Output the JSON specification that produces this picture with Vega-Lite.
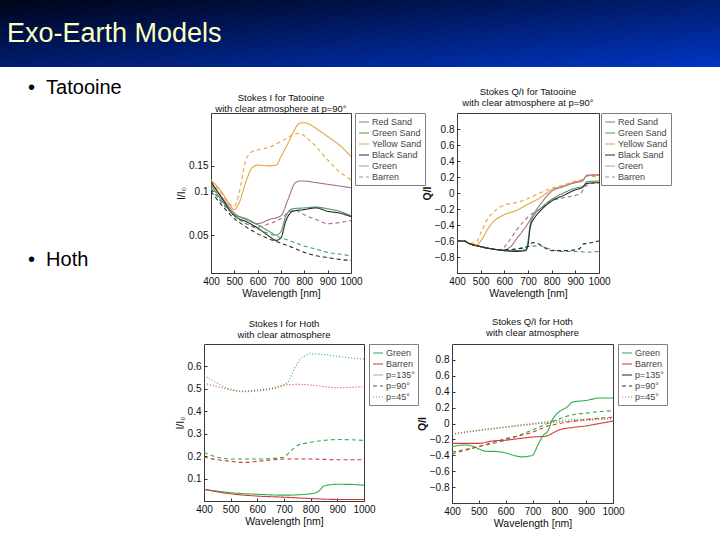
{
"$schema": "https://vega.github.io/schema/vega-lite/v6.json",
"padding": 0,
"background": "white",
"spacing": 0,
"resolve": {"scale": {"color": "independent", "strokeDash": "independent"}},
"config": {
  "view": {"stroke": null},
  "font": "Liberation Sans",
  "axis": {"labelFont": "Liberation Sans", "labelFontSize": 10, "labelColor": "#111", "titleFont": "Liberation Sans", "titleFontSize": 10.5, "titleFontWeight": "normal", "titleColor": "#111", "domain": false, "grid": false, "tickColor": "#333", "tickSize": -3, "labelPadding": 6, "labelFlush": false, "labelOverlap": false, "titlePadding": 2},
  "axisX": {"format": "d"},
  "legend": {"title": null, "orient": "right", "strokeColor": "#808080", "fillColor": "#ffffff", "padding": 3, "labelFontSize": 9, "labelFont": "Liberation Sans", "labelColor": "#444", "symbolType": "stroke", "symbolSize": 100, "symbolStrokeWidth": 1.2, "rowPadding": 0, "labelOffset": 2},
  "title": {"font": "Liberation Sans", "fontSize": 9.5, "fontWeight": "normal", "subtitleFont": "Liberation Sans", "subtitleFontSize": 9.5, "subtitlePadding": 2, "color": "#111", "subtitleColor": "#111", "anchor": "middle", "frame": "group"}
},
"datasets": {
  "tatI": [
    {"wl":400,"v":0.120,"sand":"Yellow Sand","style":"Green"},{"wl":450,"v":0.097,"sand":"Yellow Sand","style":"Green"},{"wl":480,"v":0.081,"sand":"Yellow Sand","style":"Green"},{"wl":500,"v":0.075,"sand":"Yellow Sand","style":"Green"},{"wl":520,"v":0.083,"sand":"Yellow Sand","style":"Green"},{"wl":550,"v":0.117,"sand":"Yellow Sand","style":"Green"},{"wl":575,"v":0.145,"sand":"Yellow Sand","style":"Green"},{"wl":600,"v":0.152,"sand":"Yellow Sand","style":"Green"},{"wl":650,"v":0.150,"sand":"Yellow Sand","style":"Green"},{"wl":680,"v":0.152,"sand":"Yellow Sand","style":"Green"},{"wl":700,"v":0.174,"sand":"Yellow Sand","style":"Green"},{"wl":730,"v":0.215,"sand":"Yellow Sand","style":"Green"},{"wl":750,"v":0.252,"sand":"Yellow Sand","style":"Green"},{"wl":780,"v":0.295,"sand":"Yellow Sand","style":"Green"},{"wl":800,"v":0.298,"sand":"Yellow Sand","style":"Green"},{"wl":820,"v":0.292,"sand":"Yellow Sand","style":"Green"},{"wl":850,"v":0.272,"sand":"Yellow Sand","style":"Green"},{"wl":900,"v":0.239,"sand":"Yellow Sand","style":"Green"},{"wl":950,"v":0.209,"sand":"Yellow Sand","style":"Green"},{"wl":1000,"v":0.174,"sand":"Yellow Sand","style":"Green"},
    {"wl":400,"v":0.117,"sand":"Yellow Sand","style":"Barren"},{"wl":450,"v":0.095,"sand":"Yellow Sand","style":"Barren"},{"wl":480,"v":0.082,"sand":"Yellow Sand","style":"Barren"},{"wl":500,"v":0.079,"sand":"Yellow Sand","style":"Barren"},{"wl":520,"v":0.097,"sand":"Yellow Sand","style":"Barren"},{"wl":550,"v":0.165,"sand":"Yellow Sand","style":"Barren"},{"wl":575,"v":0.188,"sand":"Yellow Sand","style":"Barren"},{"wl":600,"v":0.193,"sand":"Yellow Sand","style":"Barren"},{"wl":650,"v":0.202,"sand":"Yellow Sand","style":"Barren"},{"wl":700,"v":0.221,"sand":"Yellow Sand","style":"Barren"},{"wl":750,"v":0.245,"sand":"Yellow Sand","style":"Barren"},{"wl":780,"v":0.252,"sand":"Yellow Sand","style":"Barren"},{"wl":800,"v":0.241,"sand":"Yellow Sand","style":"Barren"},{"wl":850,"v":0.204,"sand":"Yellow Sand","style":"Barren"},{"wl":900,"v":0.165,"sand":"Yellow Sand","style":"Barren"},{"wl":950,"v":0.137,"sand":"Yellow Sand","style":"Barren"},{"wl":1000,"v":0.120,"sand":"Yellow Sand","style":"Barren"},
    {"wl":400,"v":0.114,"sand":"Red Sand","style":"Green"},{"wl":450,"v":0.090,"sand":"Red Sand","style":"Green"},{"wl":500,"v":0.071,"sand":"Red Sand","style":"Green"},{"wl":550,"v":0.064,"sand":"Red Sand","style":"Green"},{"wl":600,"v":0.060,"sand":"Red Sand","style":"Green"},{"wl":650,"v":0.064,"sand":"Red Sand","style":"Green"},{"wl":700,"v":0.068,"sand":"Red Sand","style":"Green"},{"wl":730,"v":0.088,"sand":"Red Sand","style":"Green"},{"wl":760,"v":0.114,"sand":"Red Sand","style":"Green"},{"wl":780,"v":0.118,"sand":"Red Sand","style":"Green"},{"wl":800,"v":0.118,"sand":"Red Sand","style":"Green"},{"wl":850,"v":0.115,"sand":"Red Sand","style":"Green"},{"wl":900,"v":0.112,"sand":"Red Sand","style":"Green"},{"wl":950,"v":0.109,"sand":"Red Sand","style":"Green"},{"wl":1000,"v":0.106,"sand":"Red Sand","style":"Green"},
    {"wl":400,"v":0.105,"sand":"Red Sand","style":"Barren"},{"wl":450,"v":0.083,"sand":"Red Sand","style":"Barren"},{"wl":500,"v":0.068,"sand":"Red Sand","style":"Barren"},{"wl":550,"v":0.060,"sand":"Red Sand","style":"Barren"},{"wl":600,"v":0.057,"sand":"Red Sand","style":"Barren"},{"wl":650,"v":0.060,"sand":"Red Sand","style":"Barren"},{"wl":700,"v":0.065,"sand":"Red Sand","style":"Barren"},{"wl":740,"v":0.073,"sand":"Red Sand","style":"Barren"},{"wl":760,"v":0.074,"sand":"Red Sand","style":"Barren"},{"wl":800,"v":0.069,"sand":"Red Sand","style":"Barren"},{"wl":850,"v":0.064,"sand":"Red Sand","style":"Barren"},{"wl":900,"v":0.060,"sand":"Red Sand","style":"Barren"},{"wl":950,"v":0.061,"sand":"Red Sand","style":"Barren"},{"wl":1000,"v":0.063,"sand":"Red Sand","style":"Barren"},
    {"wl":400,"v":0.111,"sand":"Green Sand","style":"Green"},{"wl":450,"v":0.085,"sand":"Green Sand","style":"Green"},{"wl":500,"v":0.069,"sand":"Green Sand","style":"Green"},{"wl":550,"v":0.065,"sand":"Green Sand","style":"Green"},{"wl":600,"v":0.059,"sand":"Green Sand","style":"Green"},{"wl":650,"v":0.053,"sand":"Green Sand","style":"Green"},{"wl":680,"v":0.050,"sand":"Green Sand","style":"Green"},{"wl":700,"v":0.053,"sand":"Green Sand","style":"Green"},{"wl":720,"v":0.067,"sand":"Green Sand","style":"Green"},{"wl":750,"v":0.076,"sand":"Green Sand","style":"Green"},{"wl":800,"v":0.077,"sand":"Green Sand","style":"Green"},{"wl":850,"v":0.078,"sand":"Green Sand","style":"Green"},{"wl":900,"v":0.076,"sand":"Green Sand","style":"Green"},{"wl":950,"v":0.073,"sand":"Green Sand","style":"Green"},{"wl":1000,"v":0.068,"sand":"Green Sand","style":"Green"},
    {"wl":400,"v":0.117,"sand":"Black Sand","style":"Green"},{"wl":450,"v":0.088,"sand":"Black Sand","style":"Green"},{"wl":500,"v":0.068,"sand":"Black Sand","style":"Green"},{"wl":550,"v":0.062,"sand":"Black Sand","style":"Green"},{"wl":600,"v":0.056,"sand":"Black Sand","style":"Green"},{"wl":650,"v":0.049,"sand":"Black Sand","style":"Green"},{"wl":680,"v":0.046,"sand":"Black Sand","style":"Green"},{"wl":700,"v":0.048,"sand":"Black Sand","style":"Green"},{"wl":720,"v":0.062,"sand":"Black Sand","style":"Green"},{"wl":750,"v":0.073,"sand":"Black Sand","style":"Green"},{"wl":800,"v":0.075,"sand":"Black Sand","style":"Green"},{"wl":850,"v":0.077,"sand":"Black Sand","style":"Green"},{"wl":900,"v":0.073,"sand":"Black Sand","style":"Green"},{"wl":950,"v":0.071,"sand":"Black Sand","style":"Green"},{"wl":1000,"v":0.067,"sand":"Black Sand","style":"Green"},
    {"wl":400,"v":0.105,"sand":"Green Sand","style":"Barren"},{"wl":450,"v":0.083,"sand":"Green Sand","style":"Barren"},{"wl":500,"v":0.068,"sand":"Green Sand","style":"Barren"},{"wl":550,"v":0.060,"sand":"Green Sand","style":"Barren"},{"wl":600,"v":0.055,"sand":"Green Sand","style":"Barren"},{"wl":650,"v":0.051,"sand":"Green Sand","style":"Barren"},{"wl":700,"v":0.048,"sand":"Green Sand","style":"Barren"},{"wl":750,"v":0.045,"sand":"Green Sand","style":"Barren"},{"wl":800,"v":0.042,"sand":"Green Sand","style":"Barren"},{"wl":850,"v":0.040,"sand":"Green Sand","style":"Barren"},{"wl":900,"v":0.038,"sand":"Green Sand","style":"Barren"},{"wl":950,"v":0.037,"sand":"Green Sand","style":"Barren"},{"wl":1000,"v":0.036,"sand":"Green Sand","style":"Barren"},
    {"wl":400,"v":0.100,"sand":"Black Sand","style":"Barren"},{"wl":450,"v":0.079,"sand":"Black Sand","style":"Barren"},{"wl":500,"v":0.065,"sand":"Black Sand","style":"Barren"},{"wl":550,"v":0.057,"sand":"Black Sand","style":"Barren"},{"wl":600,"v":0.051,"sand":"Black Sand","style":"Barren"},{"wl":650,"v":0.047,"sand":"Black Sand","style":"Barren"},{"wl":700,"v":0.044,"sand":"Black Sand","style":"Barren"},{"wl":750,"v":0.041,"sand":"Black Sand","style":"Barren"},{"wl":800,"v":0.038,"sand":"Black Sand","style":"Barren"},{"wl":850,"v":0.036,"sand":"Black Sand","style":"Barren"},{"wl":900,"v":0.035,"sand":"Black Sand","style":"Barren"},{"wl":950,"v":0.034,"sand":"Black Sand","style":"Barren"},{"wl":1000,"v":0.0335,"sand":"Black Sand","style":"Barren"}
  ],
  "tatQ": [
    {"wl":400,"v":-0.6,"sand":"Yellow Sand","style":"Green"},{"wl":430,"v":-0.6,"sand":"Yellow Sand","style":"Green"},{"wl":450,"v":-0.63,"sand":"Yellow Sand","style":"Green"},{"wl":480,"v":-0.65,"sand":"Yellow Sand","style":"Green"},{"wl":500,"v":-0.6,"sand":"Yellow Sand","style":"Green"},{"wl":530,"v":-0.45,"sand":"Yellow Sand","style":"Green"},{"wl":550,"v":-0.37,"sand":"Yellow Sand","style":"Green"},{"wl":600,"v":-0.27,"sand":"Yellow Sand","style":"Green"},{"wl":650,"v":-0.22,"sand":"Yellow Sand","style":"Green"},{"wl":700,"v":-0.14,"sand":"Yellow Sand","style":"Green"},{"wl":750,"v":-0.06,"sand":"Yellow Sand","style":"Green"},{"wl":800,"v":0.04,"sand":"Yellow Sand","style":"Green"},{"wl":850,"v":0.09,"sand":"Yellow Sand","style":"Green"},{"wl":900,"v":0.14,"sand":"Yellow Sand","style":"Green"},{"wl":930,"v":0.16,"sand":"Yellow Sand","style":"Green"},{"wl":950,"v":0.22,"sand":"Yellow Sand","style":"Green"},{"wl":1000,"v":0.22,"sand":"Yellow Sand","style":"Green"},
    {"wl":400,"v":-0.6,"sand":"Yellow Sand","style":"Barren"},{"wl":430,"v":-0.6,"sand":"Yellow Sand","style":"Barren"},{"wl":450,"v":-0.63,"sand":"Yellow Sand","style":"Barren"},{"wl":480,"v":-0.62,"sand":"Yellow Sand","style":"Barren"},{"wl":500,"v":-0.5,"sand":"Yellow Sand","style":"Barren"},{"wl":530,"v":-0.32,"sand":"Yellow Sand","style":"Barren"},{"wl":550,"v":-0.25,"sand":"Yellow Sand","style":"Barren"},{"wl":600,"v":-0.15,"sand":"Yellow Sand","style":"Barren"},{"wl":650,"v":-0.12,"sand":"Yellow Sand","style":"Barren"},{"wl":700,"v":-0.07,"sand":"Yellow Sand","style":"Barren"},{"wl":750,"v":0.0,"sand":"Yellow Sand","style":"Barren"},{"wl":800,"v":0.06,"sand":"Yellow Sand","style":"Barren"},{"wl":850,"v":0.1,"sand":"Yellow Sand","style":"Barren"},{"wl":900,"v":0.15,"sand":"Yellow Sand","style":"Barren"},{"wl":930,"v":0.17,"sand":"Yellow Sand","style":"Barren"},{"wl":950,"v":0.21,"sand":"Yellow Sand","style":"Barren"},{"wl":1000,"v":0.2,"sand":"Yellow Sand","style":"Barren"},
    {"wl":400,"v":-0.6,"sand":"Red Sand","style":"Green"},{"wl":430,"v":-0.6,"sand":"Red Sand","style":"Green"},{"wl":450,"v":-0.63,"sand":"Red Sand","style":"Green"},{"wl":500,"v":-0.67,"sand":"Red Sand","style":"Green"},{"wl":550,"v":-0.7,"sand":"Red Sand","style":"Green"},{"wl":600,"v":-0.71,"sand":"Red Sand","style":"Green"},{"wl":630,"v":-0.66,"sand":"Red Sand","style":"Green"},{"wl":650,"v":-0.58,"sand":"Red Sand","style":"Green"},{"wl":700,"v":-0.38,"sand":"Red Sand","style":"Green"},{"wl":720,"v":-0.28,"sand":"Red Sand","style":"Green"},{"wl":750,"v":-0.15,"sand":"Red Sand","style":"Green"},{"wl":800,"v":0.02,"sand":"Red Sand","style":"Green"},{"wl":850,"v":0.08,"sand":"Red Sand","style":"Green"},{"wl":900,"v":0.13,"sand":"Red Sand","style":"Green"},{"wl":930,"v":0.15,"sand":"Red Sand","style":"Green"},{"wl":950,"v":0.22,"sand":"Red Sand","style":"Green"},{"wl":1000,"v":0.23,"sand":"Red Sand","style":"Green"},
    {"wl":400,"v":-0.6,"sand":"Red Sand","style":"Barren"},{"wl":430,"v":-0.6,"sand":"Red Sand","style":"Barren"},{"wl":450,"v":-0.63,"sand":"Red Sand","style":"Barren"},{"wl":500,"v":-0.67,"sand":"Red Sand","style":"Barren"},{"wl":550,"v":-0.7,"sand":"Red Sand","style":"Barren"},{"wl":580,"v":-0.71,"sand":"Red Sand","style":"Barren"},{"wl":620,"v":-0.6,"sand":"Red Sand","style":"Barren"},{"wl":650,"v":-0.47,"sand":"Red Sand","style":"Barren"},{"wl":680,"v":-0.36,"sand":"Red Sand","style":"Barren"},{"wl":700,"v":-0.3,"sand":"Red Sand","style":"Barren"},{"wl":750,"v":-0.2,"sand":"Red Sand","style":"Barren"},{"wl":800,"v":-0.1,"sand":"Red Sand","style":"Barren"},{"wl":850,"v":-0.06,"sand":"Red Sand","style":"Barren"},{"wl":900,"v":-0.03,"sand":"Red Sand","style":"Barren"},{"wl":920,"v":-0.01,"sand":"Red Sand","style":"Barren"},{"wl":950,"v":0.1,"sand":"Red Sand","style":"Barren"},{"wl":1000,"v":0.13,"sand":"Red Sand","style":"Barren"},
    {"wl":400,"v":-0.6,"sand":"Green Sand","style":"Green"},{"wl":430,"v":-0.6,"sand":"Green Sand","style":"Green"},{"wl":450,"v":-0.63,"sand":"Green Sand","style":"Green"},{"wl":500,"v":-0.67,"sand":"Green Sand","style":"Green"},{"wl":550,"v":-0.7,"sand":"Green Sand","style":"Green"},{"wl":600,"v":-0.72,"sand":"Green Sand","style":"Green"},{"wl":650,"v":-0.72,"sand":"Green Sand","style":"Green"},{"wl":690,"v":-0.71,"sand":"Green Sand","style":"Green"},{"wl":700,"v":-0.6,"sand":"Green Sand","style":"Green"},{"wl":710,"v":-0.38,"sand":"Green Sand","style":"Green"},{"wl":730,"v":-0.26,"sand":"Green Sand","style":"Green"},{"wl":750,"v":-0.2,"sand":"Green Sand","style":"Green"},{"wl":800,"v":-0.08,"sand":"Green Sand","style":"Green"},{"wl":850,"v":0.0,"sand":"Green Sand","style":"Green"},{"wl":900,"v":0.06,"sand":"Green Sand","style":"Green"},{"wl":930,"v":0.08,"sand":"Green Sand","style":"Green"},{"wl":950,"v":0.14,"sand":"Green Sand","style":"Green"},{"wl":1000,"v":0.15,"sand":"Green Sand","style":"Green"},
    {"wl":400,"v":-0.6,"sand":"Black Sand","style":"Green"},{"wl":430,"v":-0.6,"sand":"Black Sand","style":"Green"},{"wl":450,"v":-0.63,"sand":"Black Sand","style":"Green"},{"wl":500,"v":-0.67,"sand":"Black Sand","style":"Green"},{"wl":550,"v":-0.7,"sand":"Black Sand","style":"Green"},{"wl":600,"v":-0.72,"sand":"Black Sand","style":"Green"},{"wl":650,"v":-0.73,"sand":"Black Sand","style":"Green"},{"wl":690,"v":-0.72,"sand":"Black Sand","style":"Green"},{"wl":700,"v":-0.65,"sand":"Black Sand","style":"Green"},{"wl":710,"v":-0.42,"sand":"Black Sand","style":"Green"},{"wl":730,"v":-0.3,"sand":"Black Sand","style":"Green"},{"wl":750,"v":-0.23,"sand":"Black Sand","style":"Green"},{"wl":800,"v":-0.1,"sand":"Black Sand","style":"Green"},{"wl":850,"v":-0.03,"sand":"Black Sand","style":"Green"},{"wl":900,"v":0.04,"sand":"Black Sand","style":"Green"},{"wl":930,"v":0.07,"sand":"Black Sand","style":"Green"},{"wl":950,"v":0.12,"sand":"Black Sand","style":"Green"},{"wl":1000,"v":0.13,"sand":"Black Sand","style":"Green"},
    {"wl":400,"v":-0.6,"sand":"Green Sand","style":"Barren"},{"wl":430,"v":-0.6,"sand":"Green Sand","style":"Barren"},{"wl":450,"v":-0.63,"sand":"Green Sand","style":"Barren"},{"wl":500,"v":-0.67,"sand":"Green Sand","style":"Barren"},{"wl":550,"v":-0.7,"sand":"Green Sand","style":"Barren"},{"wl":600,"v":-0.71,"sand":"Green Sand","style":"Barren"},{"wl":650,"v":-0.7,"sand":"Green Sand","style":"Barren"},{"wl":700,"v":-0.67,"sand":"Green Sand","style":"Barren"},{"wl":750,"v":-0.66,"sand":"Green Sand","style":"Barren"},{"wl":800,"v":-0.71,"sand":"Green Sand","style":"Barren"},{"wl":850,"v":-0.73,"sand":"Green Sand","style":"Barren"},{"wl":900,"v":-0.73,"sand":"Green Sand","style":"Barren"},{"wl":950,"v":-0.74,"sand":"Green Sand","style":"Barren"},{"wl":1000,"v":-0.73,"sand":"Green Sand","style":"Barren"},
    {"wl":400,"v":-0.6,"sand":"Black Sand","style":"Barren"},{"wl":430,"v":-0.6,"sand":"Black Sand","style":"Barren"},{"wl":450,"v":-0.63,"sand":"Black Sand","style":"Barren"},{"wl":500,"v":-0.67,"sand":"Black Sand","style":"Barren"},{"wl":550,"v":-0.7,"sand":"Black Sand","style":"Barren"},{"wl":600,"v":-0.71,"sand":"Black Sand","style":"Barren"},{"wl":650,"v":-0.7,"sand":"Black Sand","style":"Barren"},{"wl":700,"v":-0.67,"sand":"Black Sand","style":"Barren"},{"wl":720,"v":-0.62,"sand":"Black Sand","style":"Barren"},{"wl":740,"v":-0.63,"sand":"Black Sand","style":"Barren"},{"wl":780,"v":-0.7,"sand":"Black Sand","style":"Barren"},{"wl":800,"v":-0.72,"sand":"Black Sand","style":"Barren"},{"wl":850,"v":-0.72,"sand":"Black Sand","style":"Barren"},{"wl":900,"v":-0.71,"sand":"Black Sand","style":"Barren"},{"wl":920,"v":-0.69,"sand":"Black Sand","style":"Barren"},{"wl":930,"v":-0.64,"sand":"Black Sand","style":"Barren"},{"wl":950,"v":-0.63,"sand":"Black Sand","style":"Barren"},{"wl":1000,"v":-0.6,"sand":"Black Sand","style":"Barren"}
  ],
  "hothI": [
    {"wl":400,"v":0.56,"surface":"Green","angle":"p=45°"},{"wl":450,"v":0.525,"surface":"Green","angle":"p=45°"},{"wl":500,"v":0.498,"surface":"Green","angle":"p=45°"},{"wl":550,"v":0.487,"surface":"Green","angle":"p=45°"},{"wl":600,"v":0.49,"surface":"Green","angle":"p=45°"},{"wl":650,"v":0.498,"surface":"Green","angle":"p=45°"},{"wl":700,"v":0.517,"surface":"Green","angle":"p=45°"},{"wl":720,"v":0.54,"surface":"Green","angle":"p=45°"},{"wl":740,"v":0.592,"surface":"Green","angle":"p=45°"},{"wl":760,"v":0.63,"surface":"Green","angle":"p=45°"},{"wl":780,"v":0.648,"surface":"Green","angle":"p=45°"},{"wl":800,"v":0.656,"surface":"Green","angle":"p=45°"},{"wl":850,"v":0.653,"surface":"Green","angle":"p=45°"},{"wl":900,"v":0.645,"surface":"Green","angle":"p=45°"},{"wl":950,"v":0.638,"surface":"Green","angle":"p=45°"},{"wl":1000,"v":0.633,"surface":"Green","angle":"p=45°"},
    {"wl":400,"v":0.525,"surface":"Barren","angle":"p=45°"},{"wl":450,"v":0.51,"surface":"Barren","angle":"p=45°"},{"wl":500,"v":0.495,"surface":"Barren","angle":"p=45°"},{"wl":550,"v":0.49,"surface":"Barren","angle":"p=45°"},{"wl":600,"v":0.495,"surface":"Barren","angle":"p=45°"},{"wl":650,"v":0.502,"surface":"Barren","angle":"p=45°"},{"wl":700,"v":0.517,"surface":"Barren","angle":"p=45°"},{"wl":750,"v":0.52,"surface":"Barren","angle":"p=45°"},{"wl":800,"v":0.517,"surface":"Barren","angle":"p=45°"},{"wl":850,"v":0.51,"surface":"Barren","angle":"p=45°"},{"wl":900,"v":0.505,"surface":"Barren","angle":"p=45°"},{"wl":950,"v":0.507,"surface":"Barren","angle":"p=45°"},{"wl":1000,"v":0.51,"surface":"Barren","angle":"p=45°"},
    {"wl":400,"v":0.217,"surface":"Green","angle":"p=90°"},{"wl":450,"v":0.195,"surface":"Green","angle":"p=90°"},{"wl":500,"v":0.187,"surface":"Green","angle":"p=90°"},{"wl":600,"v":0.187,"surface":"Green","angle":"p=90°"},{"wl":700,"v":0.195,"surface":"Green","angle":"p=90°"},{"wl":720,"v":0.217,"surface":"Green","angle":"p=90°"},{"wl":750,"v":0.247,"surface":"Green","angle":"p=90°"},{"wl":800,"v":0.262,"surface":"Green","angle":"p=90°"},{"wl":850,"v":0.27,"surface":"Green","angle":"p=90°"},{"wl":900,"v":0.274,"surface":"Green","angle":"p=90°"},{"wl":950,"v":0.273,"surface":"Green","angle":"p=90°"},{"wl":1000,"v":0.27,"surface":"Green","angle":"p=90°"},
    {"wl":400,"v":0.195,"surface":"Barren","angle":"p=90°"},{"wl":450,"v":0.184,"surface":"Barren","angle":"p=90°"},{"wl":500,"v":0.177,"surface":"Barren","angle":"p=90°"},{"wl":550,"v":0.172,"surface":"Barren","angle":"p=90°"},{"wl":600,"v":0.177,"surface":"Barren","angle":"p=90°"},{"wl":650,"v":0.183,"surface":"Barren","angle":"p=90°"},{"wl":700,"v":0.187,"surface":"Barren","angle":"p=90°"},{"wl":800,"v":0.187,"surface":"Barren","angle":"p=90°"},{"wl":900,"v":0.184,"surface":"Barren","angle":"p=90°"},{"wl":1000,"v":0.184,"surface":"Barren","angle":"p=90°"},
    {"wl":400,"v":0.052,"surface":"Green","angle":"p=135°"},{"wl":500,"v":0.037,"surface":"Green","angle":"p=135°"},{"wl":600,"v":0.030,"surface":"Green","angle":"p=135°"},{"wl":700,"v":0.026,"surface":"Green","angle":"p=135°"},{"wl":800,"v":0.032,"surface":"Green","angle":"p=135°"},{"wl":830,"v":0.044,"surface":"Green","angle":"p=135°"},{"wl":850,"v":0.067,"surface":"Green","angle":"p=135°"},{"wl":900,"v":0.0745,"surface":"Green","angle":"p=135°"},{"wl":950,"v":0.074,"surface":"Green","angle":"p=135°"},{"wl":1000,"v":0.07,"surface":"Green","angle":"p=135°"},
    {"wl":400,"v":0.052,"surface":"Barren","angle":"p=135°"},{"wl":500,"v":0.032,"surface":"Barren","angle":"p=135°"},{"wl":600,"v":0.022,"surface":"Barren","angle":"p=135°"},{"wl":700,"v":0.017,"surface":"Barren","angle":"p=135°"},{"wl":800,"v":0.011,"surface":"Barren","angle":"p=135°"},{"wl":900,"v":0.007,"surface":"Barren","angle":"p=135°"},{"wl":1000,"v":0.007,"surface":"Barren","angle":"p=135°"}
  ],
  "hothQ": [
    {"wl":400,"v":-0.29,"surface":"Green","angle":"p=135°"},{"wl":450,"v":-0.27,"surface":"Green","angle":"p=135°"},{"wl":480,"v":-0.29,"surface":"Green","angle":"p=135°"},{"wl":500,"v":-0.32,"surface":"Green","angle":"p=135°"},{"wl":530,"v":-0.35,"surface":"Green","angle":"p=135°"},{"wl":550,"v":-0.35,"surface":"Green","angle":"p=135°"},{"wl":600,"v":-0.37,"surface":"Green","angle":"p=135°"},{"wl":640,"v":-0.41,"surface":"Green","angle":"p=135°"},{"wl":660,"v":-0.42,"surface":"Green","angle":"p=135°"},{"wl":700,"v":-0.4,"surface":"Green","angle":"p=135°"},{"wl":720,"v":-0.27,"surface":"Green","angle":"p=135°"},{"wl":740,"v":-0.15,"surface":"Green","angle":"p=135°"},{"wl":760,"v":-0.08,"surface":"Green","angle":"p=135°"},{"wl":770,"v":0.02,"surface":"Green","angle":"p=135°"},{"wl":780,"v":0.08,"surface":"Green","angle":"p=135°"},{"wl":800,"v":0.15,"surface":"Green","angle":"p=135°"},{"wl":830,"v":0.21,"surface":"Green","angle":"p=135°"},{"wl":850,"v":0.27,"surface":"Green","angle":"p=135°"},{"wl":900,"v":0.29,"surface":"Green","angle":"p=135°"},{"wl":950,"v":0.32,"surface":"Green","angle":"p=135°"},{"wl":1000,"v":0.32,"surface":"Green","angle":"p=135°"},
    {"wl":400,"v":-0.36,"surface":"Green","angle":"p=90°"},{"wl":500,"v":-0.29,"surface":"Green","angle":"p=90°"},{"wl":600,"v":-0.21,"surface":"Green","angle":"p=90°"},{"wl":700,"v":-0.08,"surface":"Green","angle":"p=90°"},{"wl":750,"v":-0.01,"surface":"Green","angle":"p=90°"},{"wl":800,"v":0.06,"surface":"Green","angle":"p=90°"},{"wl":850,"v":0.11,"surface":"Green","angle":"p=90°"},{"wl":900,"v":0.13,"surface":"Green","angle":"p=90°"},{"wl":950,"v":0.15,"surface":"Green","angle":"p=90°"},{"wl":1000,"v":0.16,"surface":"Green","angle":"p=90°"},
    {"wl":400,"v":-0.38,"surface":"Barren","angle":"p=90°"},{"wl":500,"v":-0.29,"surface":"Barren","angle":"p=90°"},{"wl":600,"v":-0.19,"surface":"Barren","angle":"p=90°"},{"wl":700,"v":-0.11,"surface":"Barren","angle":"p=90°"},{"wl":750,"v":-0.04,"surface":"Barren","angle":"p=90°"},{"wl":800,"v":0.0,"surface":"Barren","angle":"p=90°"},{"wl":900,"v":0.05,"surface":"Barren","angle":"p=90°"},{"wl":1000,"v":0.08,"surface":"Barren","angle":"p=90°"},
    {"wl":400,"v":-0.13,"surface":"Green","angle":"p=45°"},{"wl":500,"v":-0.08,"surface":"Green","angle":"p=45°"},{"wl":600,"v":-0.04,"surface":"Green","angle":"p=45°"},{"wl":700,"v":0.0,"surface":"Green","angle":"p=45°"},{"wl":800,"v":0.04,"surface":"Green","angle":"p=45°"},{"wl":900,"v":0.055,"surface":"Green","angle":"p=45°"},{"wl":1000,"v":0.07,"surface":"Green","angle":"p=45°"},
    {"wl":400,"v":-0.135,"surface":"Barren","angle":"p=45°"},{"wl":500,"v":-0.09,"surface":"Barren","angle":"p=45°"},{"wl":600,"v":-0.05,"surface":"Barren","angle":"p=45°"},{"wl":700,"v":-0.01,"surface":"Barren","angle":"p=45°"},{"wl":800,"v":0.02,"surface":"Barren","angle":"p=45°"},{"wl":900,"v":0.04,"surface":"Barren","angle":"p=45°"},{"wl":1000,"v":0.06,"surface":"Barren","angle":"p=45°"},
    {"wl":400,"v":-0.25,"surface":"Barren","angle":"p=135°"},{"wl":500,"v":-0.25,"surface":"Barren","angle":"p=135°"},{"wl":550,"v":-0.22,"surface":"Barren","angle":"p=135°"},{"wl":600,"v":-0.21,"surface":"Barren","angle":"p=135°"},{"wl":650,"v":-0.19,"surface":"Barren","angle":"p=135°"},{"wl":700,"v":-0.17,"surface":"Barren","angle":"p=135°"},{"wl":750,"v":-0.16,"surface":"Barren","angle":"p=135°"},{"wl":770,"v":-0.13,"surface":"Barren","angle":"p=135°"},{"wl":800,"v":-0.08,"surface":"Barren","angle":"p=135°"},{"wl":850,"v":-0.05,"surface":"Barren","angle":"p=135°"},{"wl":900,"v":-0.03,"surface":"Barren","angle":"p=135°"},{"wl":950,"v":0.0,"surface":"Barren","angle":"p=135°"},{"wl":1000,"v":0.03,"surface":"Barren","angle":"p=135°"}
  ]
},
"vconcat": [
  {
    "data": {"values": [{}]},
    "width": 720, "height": 67,
    "mark": {"type": "rect", "color": {"gradient": "linear", "x1": 0, "y1": 0, "x2": 1, "y2": 1, "stops": [{"offset": 0, "color": "#000418"}, {"offset": 0.45, "color": "#001a66"}, {"offset": 1, "color": "#0036c4"}]}},
    "title": {"text": "Exo-Earth Models", "anchor": "start", "frame": "group", "dx": 7, "offset": -61, "fontSize": 27, "font": "Liberation Sans", "fontWeight": "normal", "color": "#ffffc0", "baseline": "middle"}
  },
  {"data": {"values": []}, "mark": "rect", "width": 720, "height": 11},
  {
    "bounds": "flush",
    "spacing": 106,
    "resolve": {"scale": {"color": "independent", "strokeDash": "independent"}},
    "hconcat": [
      {"data": {"values": []}, "mark": "rect", "width": 105, "height": 160,
       "title": {"text": "\u2022\u00a0\u00a0Tatooine", "subtitle": "\u2022\u00a0\u00a0Hoth", "anchor": "start", "frame": "group", "dx": 28, "offset": -167, "fontSize": 20, "subtitleFontSize": 20, "subtitlePadding": 152, "font": "Liberation Sans", "subtitleFont": "Liberation Sans", "fontWeight": "normal", "color": "#000000", "subtitleColor": "#000000", "baseline": "middle"}},
      {
        "data": {"name": "tatI"},
        "width": 140, "height": 160,
        "view": {"stroke": "#3a3a3a"},
        "title": {"text": "Stokes I for Tatooine", "subtitle": "with clear atmosphere at p=90°", "offset": -1},
        "mark": {"type": "line", "interpolate": "monotone", "strokeWidth": 1.1, "clip": true},
        "encoding": {
          "x": {"field": "wl", "type": "quantitative", "scale": {"domain": [400, 1000], "nice": false}, "axis": {"values": [400,500,600,700,800,900,1000], "title": "Wavelength [nm]"}},
          "y": {"field": "v", "type": "quantitative", "scale": {"type": "log", "domain": [0.0274, 0.3474], "nice": false}, "axis": {"values": [0.05, 0.1, 0.15], "format": ".2~f", "title": "I/I₀"}},
          "color": {"field": "sand", "type": "nominal", "scale": {"domain": ["Red Sand","Green Sand","Yellow Sand","Black Sand","Green","Barren"], "range": ["#a86f8c","#4f9a62","#e2a63a","#2a2a2a","#9a9a9a","#9a9a9a"]}, "legend": {"offset": 4}},
          "strokeDash": {"field": "style", "type": "nominal", "scale": {"domain": ["Red Sand","Green Sand","Yellow Sand","Black Sand","Green","Barren"], "range": [[1,0],[1,0],[1,0],[1,0],[1,0],[4,3]]}, "legend": {"offset": 4}}
        }
      },
      {
        "data": {"name": "tatQ"},
        "width": 142, "height": 160,
        "view": {"stroke": "#3a3a3a"},
        "title": {"text": "Stokes Q/I for Tatooine", "subtitle": "with clear atmosphere at p=90°", "offset": 5},
        "mark": {"type": "line", "interpolate": "monotone", "strokeWidth": 1.1, "clip": true},
        "encoding": {
          "x": {"field": "wl", "type": "quantitative", "scale": {"domain": [400, 1000], "nice": false}, "axis": {"values": [400,500,600,700,800,900,1000], "title": "Wavelength [nm]"}},
          "y": {"field": "v", "type": "quantitative", "scale": {"domain": [-1, 1], "nice": false}, "axis": {"values": [-0.8,-0.6,-0.4,-0.2,0,0.2,0.4,0.6,0.8], "format": ".1~f", "title": "Q/I", "titleFontWeight": "bold"}},
          "color": {"field": "sand", "type": "nominal", "scale": {"domain": ["Red Sand","Green Sand","Yellow Sand","Black Sand","Green","Barren"], "range": ["#a86f8c","#4f9a62","#e2a63a","#2a2a2a","#a8a8a8","#9a9a9a"]}, "legend": {"offset": 2}},
          "strokeDash": {"field": "style", "type": "nominal", "scale": {"domain": ["Red Sand","Green Sand","Yellow Sand","Black Sand","Green","Barren"], "range": [[1,0],[1,0],[1,0],[1,0],[1,0],[4,3]]}, "legend": {"offset": 2}}
        }
      }
    ]
  },
  {"data": {"values": []}, "mark": "rect", "width": 720, "height": 17},
  {
    "bounds": "flush",
    "spacing": 88,
    "resolve": {"scale": {"color": "independent", "strokeDash": "independent"}},
    "hconcat": [
      {"data": {"values": []}, "mark": "rect", "width": 116, "height": 159},
      {
        "data": {"name": "hothI"},
        "width": 160, "height": 157,
        "view": {"stroke": "#3a3a3a"},
        "title": {"text": "Stokes I for Hoth", "subtitle": "with clear atmosphere", "offset": 4},
        "mark": {"type": "line", "interpolate": "monotone", "strokeWidth": 1.1, "clip": true},
        "encoding": {
          "x": {"field": "wl", "type": "quantitative", "scale": {"domain": [400, 1000], "nice": false}, "axis": {"values": [400,500,600,700,800,900,1000], "title": "Wavelength [nm]"}},
          "y": {"field": "v", "type": "quantitative", "scale": {"domain": [0, 0.7], "nice": false}, "axis": {"values": [0.1,0.2,0.3,0.4,0.5,0.6], "format": ".1f", "title": "I/I₀"}},
          "color": {"field": "surface", "type": "nominal", "scale": {"domain": ["Green","Barren","p=135°","p=90°","p=45°"], "range": ["#2fb045","#d03a3a","#aaaaaa","#555555","#888888"]}, "legend": {"offset": 5}},
          "strokeDash": {"field": "angle", "type": "nominal", "scale": {"domain": ["Green","Barren","p=135°","p=90°","p=45°"], "range": [[1,0],[1,0],[1,0],[4,3],[1,2]]}, "legend": {"offset": 5}}
        }
      },
      {
        "data": {"name": "hothQ"},
        "width": 161, "height": 159,
        "view": {"stroke": "#3a3a3a"},
        "title": {"text": "Stokes Q/I for Hoth", "subtitle": "with clear atmosphere", "offset": 6},
        "mark": {"type": "line", "interpolate": "monotone", "strokeWidth": 1.1, "clip": true},
        "encoding": {
          "x": {"field": "wl", "type": "quantitative", "scale": {"domain": [400, 1000], "nice": false}, "axis": {"values": [400,500,600,700,800,900,1000], "title": "Wavelength [nm]"}},
          "y": {"field": "v", "type": "quantitative", "scale": {"domain": [-1, 1], "nice": false}, "axis": {"values": [-0.8,-0.6,-0.4,-0.2,0,0.2,0.4,0.6,0.8], "format": ".1~f", "title": "Q/I", "titleFontWeight": "bold"}},
          "color": {"field": "surface", "type": "nominal", "scale": {"domain": ["Green","Barren","p=135°","p=90°","p=45°"], "range": ["#2fb045","#d03a3a","#222222","#333333","#777777"]}, "legend": {"offset": 5}},
          "strokeDash": {"field": "angle", "type": "nominal", "scale": {"domain": ["Green","Barren","p=135°","p=90°","p=45°"], "range": [[1,0],[1,0],[1,0],[4,3],[1,2]]}, "legend": {"offset": 5}}
        }
      }
    ]
  }
]
}
